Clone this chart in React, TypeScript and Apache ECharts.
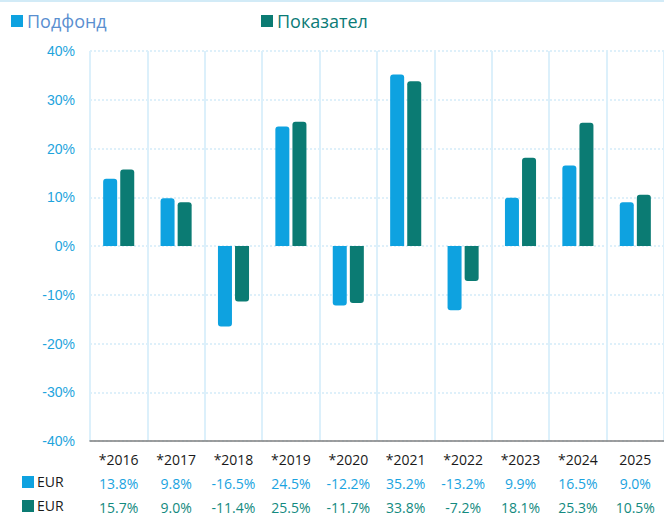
import React, { useEffect, useRef } from "react";
import * as echarts from "echarts";

const categories = ["*2016", "*2017", "*2018", "*2019", "*2020", "*2021", "*2022", "*2023", "*2024", "2025"];
const fundValues = [13.8, 9.8, -16.5, 24.5, -12.2, 35.2, -13.2, 9.9, 16.5, 9.0];
const indexValues = [15.7, 9.0, -11.4, 25.5, -11.7, 33.8, -7.2, 18.1, 25.3, 10.5];
const seriesNames = ["Подфонд", "Показател"];
const rowLabels = ["EUR", "EUR"];
const yTicks = { min: -40, max: 40, interval: 10 };

const BLUE = "#0ea2e0";
const TEAL = "#0b7b73";
const FONT = "'Open Sans', 'Noto Sans', sans-serif";

export default function App() {
  const ref = useRef<HTMLDivElement>(null);
  useEffect(() => {
    const chart = echarts.init(ref.current!, null, { renderer: "svg" });
    const fmt = (v: number) => v.toFixed(1) + "%";
    const radius = (v: number) => (v >= 0 ? [3, 3, 0, 0] : [0, 0, 3, 3]);
    chart.setOption({
      animation: false,
      backgroundColor: "#ffffff",
      legend: [
        {
          data: [{ name: seriesNames[0], textStyle: { color: "#5a8fd0" } }],
          left: 6,
          top: 7,
          itemWidth: 12,
          itemHeight: 12,
          icon: "rect",
          itemGap: 5,
          textStyle: { fontSize: 18, fontFamily: FONT, padding: [0, 0, 0, -1] },
        },
        {
          data: [{ name: seriesNames[1], textStyle: { color: "#0b7b76" } }],
          left: 256,
          top: 7,
          itemWidth: 12,
          itemHeight: 12,
          icon: "rect",
          textStyle: { fontSize: 18, fontFamily: FONT, padding: [0, 0, 0, -1] },
        },
      ],
      grid: { left: 90, right: 0, top: 51, bottom: 74, containLabel: false },
      xAxis: {
        type: "category",
        data: categories,
        axisLine: { onZero: false, lineStyle: { color: "#7f7f7f", width: 1.5 } },
        axisTick: { show: false },
        splitLine: { show: true, lineStyle: { color: "#dcf0fb", width: 2 } },
        axisLabel: {
          margin: 6,
          interval: 0,
          formatter: (val: string, idx: number) =>
            `{y|${val}}\n{a|${fmt(fundValues[idx])}}\n{b|${fmt(indexValues[idx])}}`,
          rich: {
            y: { color: "#1a1a1a", fontSize: 14, fontFamily: FONT, lineHeight: 24 },
            a: { color: "#1aa3e0", fontSize: 14, fontFamily: FONT, lineHeight: 24 },
            b: { color: "#138a80", fontSize: 14, fontFamily: FONT, lineHeight: 24 },
          },
        },
      },
      yAxis: {
        type: "value",
        min: yTicks.min,
        max: yTicks.max,
        interval: yTicks.interval,
        axisLine: { show: false },
        axisTick: { show: false },
        axisLabel: {
          formatter: "{value}%",
          color: "#1ea4dd",
          fontSize: 14,
          fontFamily: "'Liberation Sans', Arial, sans-serif",
          margin: 15,
        },
        splitLine: { lineStyle: { color: "#d3ecf9", type: [2, 2], width: 1.5 } },
      },
      series: [
        {
          name: seriesNames[0],
          type: "bar",
          data: fundValues.map((v) => ({ value: v, itemStyle: { borderRadius: radius(v) } })),
          barWidth: 14,
          barGap: "22%",
          itemStyle: { color: BLUE },
        },
        {
          name: seriesNames[1],
          type: "bar",
          data: indexValues.map((v) => ({ value: v, itemStyle: { borderRadius: radius(v) } })),
          barWidth: 14,
          itemStyle: { color: TEAL },
        },
      ],
      graphic: [
        { type: "rect", left: 0, top: 0, shape: { width: 664, height: 2 }, style: { fill: "#d2ebf7" } },
        { type: "rect", left: 22, top: 476, shape: { width: 12, height: 12 }, style: { fill: BLUE } },
        { type: "text", left: 37, top: 474, style: { text: rowLabels[0], fontSize: 14, fontFamily: FONT, fill: "#1a1a1a" } },
        { type: "rect", left: 22, top: 500, shape: { width: 12, height: 12 }, style: { fill: TEAL } },
        { type: "text", left: 37, top: 498, style: { text: rowLabels[1], fontSize: 14, fontFamily: FONT, fill: "#1a1a1a" } },
      ],
    });
    return () => chart.dispose();
  }, []);
  return (
    <div
      ref={ref}
      style={{ position: "fixed", left: 0, top: 0, width: 664, height: 515 }}
    />
  );
}
